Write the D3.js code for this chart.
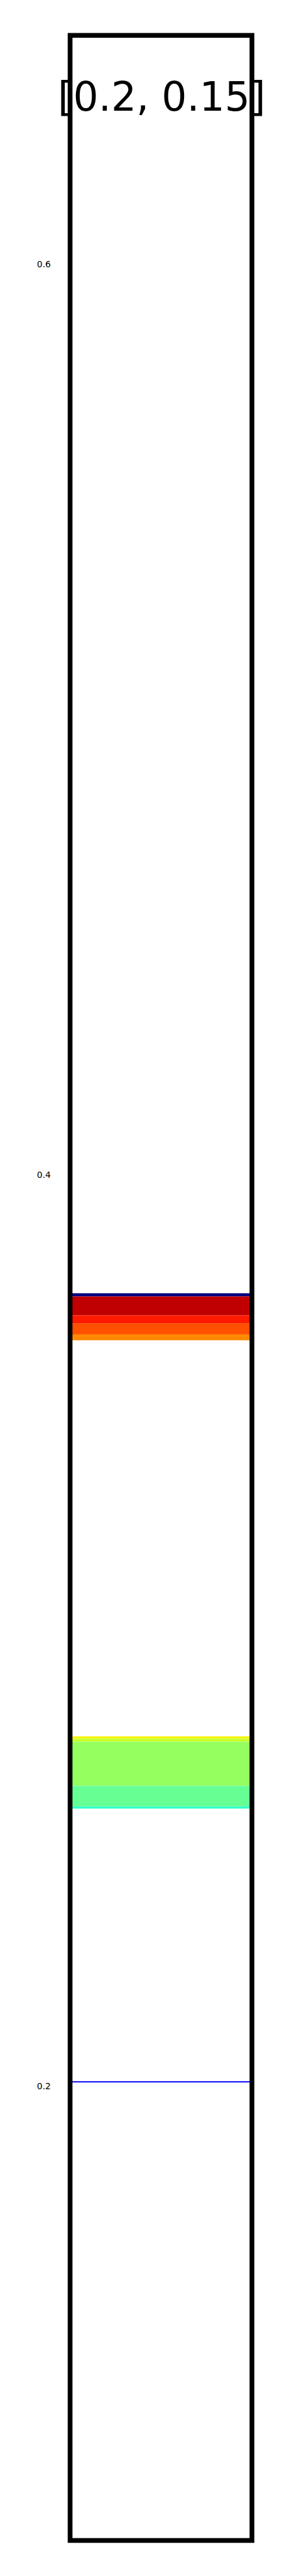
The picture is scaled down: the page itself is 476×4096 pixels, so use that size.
<!DOCTYPE html>
<html><head><meta charset="utf-8">
<script src="https://cdn.jsdelivr.net/npm/d3@7"></script>
<style>html,body{margin:0;padding:0;background:#fff;overflow:hidden}</style>
</head><body>
<script>
// ---- data ----
const chartTitle = "[0.2, 0.15]";
const tickValues = [0.2, 0.4, 0.6];
const tickLabels = ["0.2", "0.4", "0.6"];
const yDomain = [0.1, 0.65];
const bandTop    = [0.37383, 0.37313, 0.36897, 0.36723, 0.36478, 0.27654, 0.27605, 0.27538, 0.26570, 0.26116];
const bandBottom = [0.37313, 0.36897, 0.36723, 0.36478, 0.36350, 0.27605, 0.27538, 0.26570, 0.26116, 0.26069];
const bandColors = ["#000080", "#c00000", "#ff1a00", "#ff5000", "#ff8a00", "#f5f500", "#c8ff2c", "#96ff60", "#66ff94", "#2effc8"];
const lineValues = [0.2007];
const lineColors = ["#0000ff"];

(function () {
  // ---- layout (reference pixel units, scaled via viewBox) ----
  const W = 753, H = 6480;
  const mLeft = 176.5, mRight = 634.5, mTop = 89, mBottom = 6390.6;

  const svg = d3.select("body").append("svg")
    .attr("width", 476).attr("height", 4096)
    .attr("viewBox", `0 0 ${W} ${H}`)
    .style("display", "block");

  svg.append("rect").attr("width", W).attr("height", H).attr("fill", "#ffffff");

  const x = d3.scaleLinear().domain([0, 1]).range([mLeft, mRight]);
  const y = d3.scaleLinear().domain(yDomain).range([mBottom, mTop]);

  const bands = bandTop.map((t, i) => ({hi: t, lo: bandBottom[i], color: bandColors[i]}));

  svg.append("g").selectAll("rect").data(bands).join("rect")
    .attr("x", x(0)).attr("width", x(1) - x(0))
    .attr("y", d => y(d.hi))
    .attr("height", d => y(d.lo) - y(d.hi))
    .attr("fill", d => d.color);

  svg.append("g").selectAll("line").data(lineValues).join("line")
    .attr("x1", x(0)).attr("x2", x(1))
    .attr("y1", d => y(d)).attr("y2", d => y(d))
    .attr("stroke", (d, i) => lineColors[i])
    .attr("stroke-width", 3.3);

  // y axis labels
  const axis = d3.axisLeft(y).tickValues(tickValues)
    .tickFormat((d, i) => tickLabels[i]).tickSize(0).tickPadding(48.5);
  const ag = svg.append("g").attr("transform", `translate(${mLeft},0)`).call(axis);
  ag.select(".domain").remove();
  ag.selectAll("text")
    .attr("dy", "10px")
    .style("font-family", "'DejaVu Sans', sans-serif")
    .style("font-size", "22px").attr("fill", "#000");

  // frame
  svg.append("rect")
    .attr("x", mLeft).attr("y", mTop)
    .attr("width", mRight - mLeft).attr("height", mBottom - mTop)
    .attr("fill", "none").attr("stroke", "#000").attr("stroke-width", 12)
    .attr("stroke-linejoin", "miter");

  // title
  svg.append("text")
    .attr("x", (mLeft + mRight) / 2 + 1.5).attr("y", 279)
    .attr("text-anchor", "middle")
    .style("font-family", "'DejaVu Sans', sans-serif")
    .style("font-size", "100px").attr("fill", "#000")
    .text(chartTitle);
})();
</script>
</body></html>
